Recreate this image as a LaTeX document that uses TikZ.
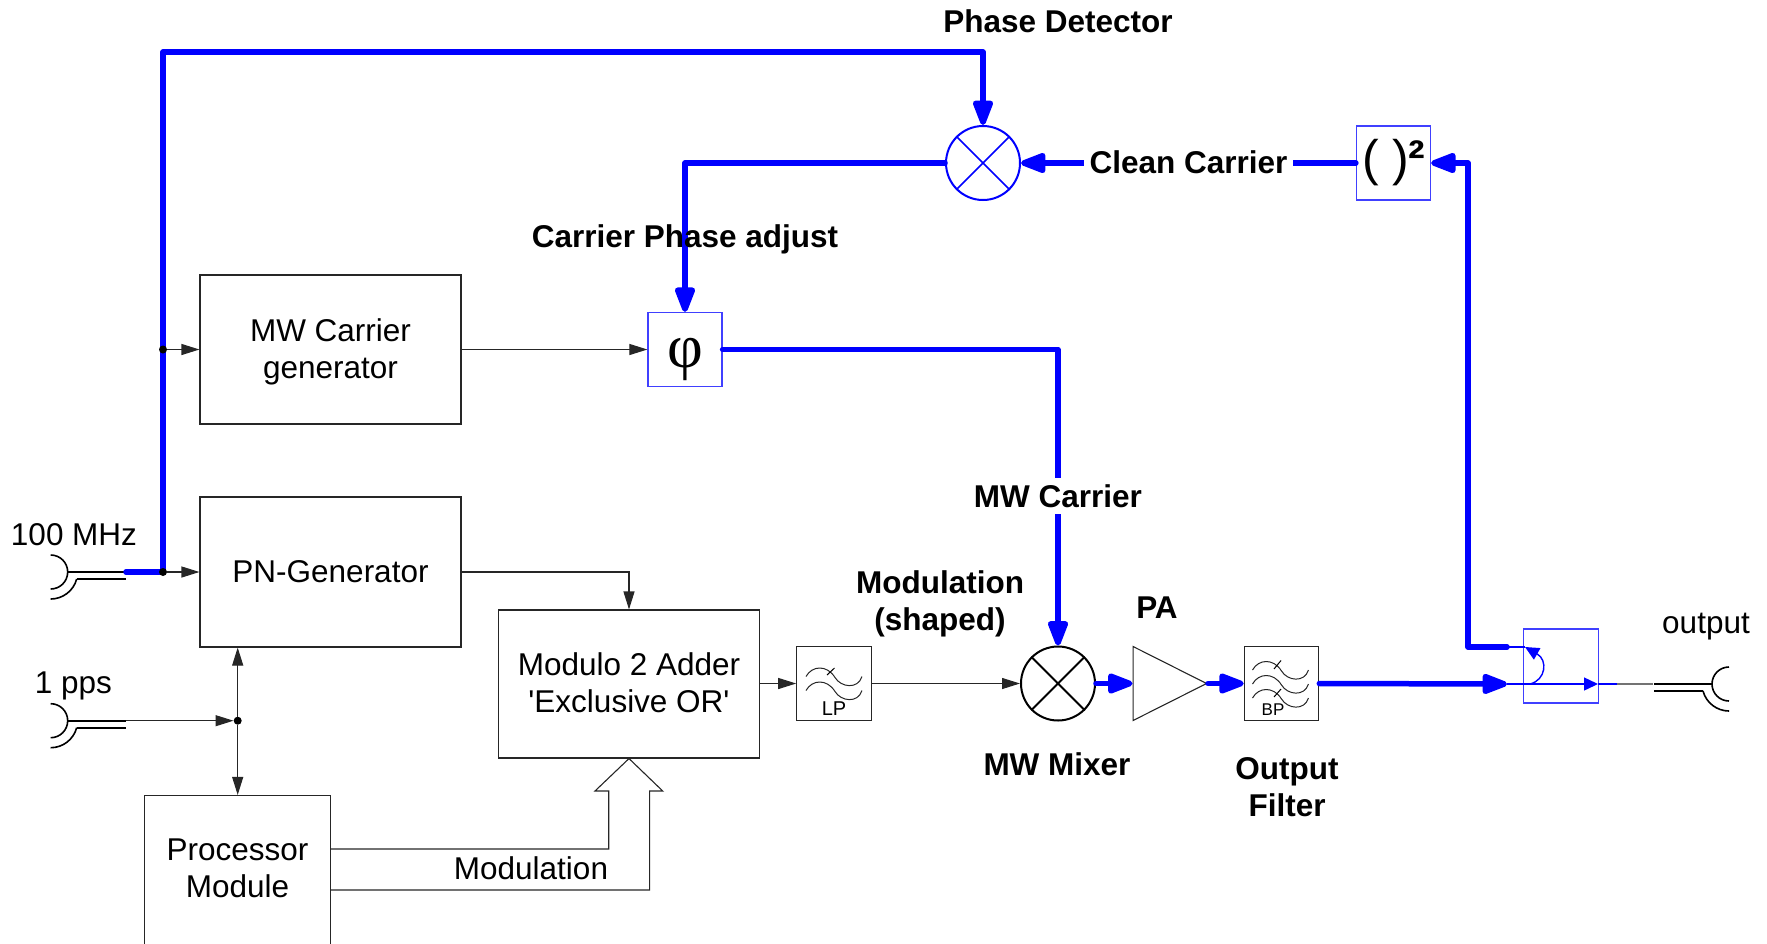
\documentclass[tikz,border=0pt]{standalone}
\usepackage{fontspec}
\setmainfont{Liberation Sans}
\newfontfamily\phifont{Liberation Serif}
\newfontfamily\straightfont{Liberation Sans}
\usetikzlibrary{shapes.geometric, arrows.meta, positioning}
\definecolor{pathblue}{HTML}{0000FF}
\tikzset{
  sigline/.style={line width=1.1pt, draw=black!85},
  sigarrow/.style={sigline, -{Triangle[length=18pt,width=11pt]}},
  heavyline/.style={line width=5.5pt, draw=pathblue, line cap=round, line join=round},
  heavyarrow/.style={heavyline, -{Triangle[length=30pt,width=21pt,round=false]}},
  blockbox/.style={draw=black!85, line width=1.1pt, fill=none, inner sep=0pt,
    font=\fontsize{31.5}{37}\selectfont},
  bluebox/.style={draw=pathblue!75, line width=1.2pt, minimum width=74pt, minimum height=74pt, inner sep=0pt},
  filterbox/.style={draw=black!85, line width=1.1pt, minimum width=74.5pt, minimum height=74pt, inner sep=0pt},
  xcircle/.style={circle, line width=2pt, minimum size=74pt, inner sep=0pt},
  boldlabel/.style={font=\fontsize{31.5}{37}\selectfont\bfseries, align=center, inner sep=0pt},
  plainlabel/.style={font=\fontsize{31.5}{37}\selectfont, align=center, inner sep=0pt},
  joindot/.style={circle, fill=black, minimum size=8pt, inner sep=0pt},
  filterwave/.pic={\draw[line width=1pt, black!85] (0,0) .. controls (6,-11) and (21,-12) .. (29,1)
    .. controls (35,11) and (52,13) .. (56,0);},
  port/.pic={\draw[line width=1.6pt] (17,0) -- (75,0) (26,7) -- (75,7);
    \draw[line width=1.6pt] (0,-17) arc[start angle=-90,end angle=90,radius=17];
    \draw[line width=1.6pt] (26,7) arc[start angle=15,end angle=90,radius=27];},
}
\begin{document}
\begin{tikzpicture}[x=1pt,y=-1pt]
  \useasboundingbox (0,0) rectangle (1767,943);

  % blocks
  \node[blockbox, minimum width=261pt, minimum height=149pt] (carrier) at (330.5,349.5) {};
  \node[plainlabel] (carriertext) at (330.5,351.7) {MW Carrier\\generator};
  \node[blockbox, minimum width=261pt, minimum height=150pt] (pngen) at (330.5,572) {PN-Generator};
  \node[blockbox, minimum width=261pt, minimum height=148pt] (adder) at (629,684) {};
  \node[plainlabel] (addertext) at (629,683) {Modulo 2 Adder\\{\straightfont'Exclusive OR'}};
  \node[blockbox, minimum width=186pt, minimum height=151pt] (proc) at (237.5,871) {};
  \node[plainlabel] (proctext) at (237.5,868.2) {Processor\\Module};

  \node[bluebox] (phase) at (685,349.5) {\phifont\fontsize{62}{62}\selectfont\raisebox{-17.5pt}[0pt][0pt]{φ}};
  \node[bluebox] (square) at (1393.5,163) {\fontsize{50}{50}\selectfont ( )\kern-1pt{\bfseries²}};
  \node[bluebox, minimum width=75pt] (coupler) at (1561,666) {};
  \node[filterbox] (lowpass) at (834,683.5) {};
  \node[filterbox] (bandpass) at (1281.5,683.5) {};
  \node[xcircle, draw=black] (mixer) at (1058,683.5) {};
  \node[xcircle, draw=pathblue] (detector) at (983,163) {};
  \node[isosceles triangle, isosceles triangle stretches, draw=black!85, line width=1.1pt, inner sep=0pt,
        minimum width=74pt, minimum height=73.5pt, anchor=lower side] (amp) at (1132.5,683.5) {};

  \draw[line width=2pt] (mixer.45) -- (mixer.225) (mixer.135) -- (mixer.315);
  \draw[line width=1.6pt, pathblue] (detector.45) -- (detector.225) (detector.135) -- (detector.315);

  % filter glyphs
  \pic at (806,676.5) {filterwave};
  \pic at (806,690.5) {filterwave};
  \draw[line width=1pt] (827,675) -- (834.5,668);
  \node[font=\fontsize{20}{20}\selectfont, inner sep=0pt] (lptext) at (834,709) {LP};
  \pic at (1252.5,670) {filterwave};
  \pic at (1252.5,684) {filterwave};
  \pic at (1252.5,698) {filterwave};
  \draw[line width=1pt] (1274,669) -- (1281,660.5) (1274,697) -- (1281,689);
  \node[font=\fontsize{17}{17}\selectfont, inner sep=0pt] (bptext) at (1273,710) {BP};

  % ports
  \pic at (50.7,572) {port};
  \pic at (50.7,720.7) {port};
  \pic[xscale=-1] at (1729,684) {port};
  \coordinate (inport) at (126,572);
  \coordinate (ppsport) at (126,720.7);
  \coordinate (outport) at (1653,684);

  % heavy loop
  \coordinate (refpoint) at (163,572);
  \coordinate (looptop) at (163,52);
  \coordinate (coupin) at (1507,684);
  \coordinate (coupside) at (1507,647);
  \draw[heavyline] (inport) -- (refpoint);
  \draw[heavyarrow] (refpoint) -- (looptop) -| (detector.north);
  \draw[heavyarrow] (detector.west) -| (phase.north);
  \draw[heavyarrow] (phase.east) -| (mixer.north);
  \draw[heavyarrow] (square.west) -- (detector.east);
  \draw[heavyarrow] (coupside) -| (1468,163) -- (square.east);
  \draw[heavyarrow] (mixer.east) -- (amp.lower side);
  \draw[heavyarrow] (amp.apex) -- (bandpass.west);
  \draw[heavyarrow] (bandpass.east) -- (coupin);

  % junction dots
  \node[joindot] (refdot) at (refpoint) {};
  \node[joindot] (gendot) at (163,349.5) {};
  \node[joindot] (ppsdot) at (237.7,720.7) {};

  % coupler inside
  \coordinate (coupout) at (1598,684);
  \coordinate (bendstart) at (1530,684);
  \coordinate (bendend) at (1525,647);
  \draw[line width=1.4pt, pathblue, -{Triangle[length=14pt,width=13pt]}] (coupin) -- (coupout);
  \draw[line width=1.4pt, pathblue] (coupside) -- (bendend);
  \draw[line width=1.4pt, pathblue, -{Triangle[length=14pt,width=13pt]}] (bendstart) .. controls (1546,680) and (1548,660) .. (bendend);
  \draw[line width=1.4pt, pathblue] (coupout) -- (1617,684);
  \draw[sigline, black!55] (1617,684) -- (outport);

  % thin signal lines
  \draw[sigarrow] (refdot) -- (pngen.west);
  \draw[sigarrow] (gendot) -- (carrier.west);
  \draw[sigarrow] (carrier.east) -- (phase.west);
  \draw[sigarrow] (pngen.east) -| (adder.north);
  \draw[sigarrow] (adder.east |- lowpass.west) -- (lowpass.west);
  \draw[sigarrow] (lowpass.east) -- (mixer.west);
  \draw[sigarrow] (ppsport) -- (ppsdot);
  \draw[sigarrow] (ppsdot) -- (ppsdot |- pngen.south);
  \draw[sigarrow] (ppsdot) -- (ppsdot |- proc.north);

  % wide modulation arrow
  \draw[sigline] (proc.east |- 0,849) -- (608.7,849) -- (608.7,791) -- (595,791) -- (adder.south)
    -- (662.7,791) -- (649.6,791) -- (649.6,890) -- (proc.east |- 0,890);
  \node[plainlabel] (modtext) at (531,868) {Modulation};

  % labels
  \node[plainlabel] (reftext) at (74,535) {100 MHz};
  \node[plainlabel] (ppstext) at (73.5,686) {1 pps};
  \node[plainlabel] (outtext) at (1706,627) {output};
  \node[boldlabel] (dettext) at (1058,21) {Phase Detector};
  \node[boldlabel] (adjtext) at (685,239) {Carrier Phase adjust};
  \node[boldlabel, fill=white, inner xsep=6pt] (cleantext) at (1188.5,162) {Clean Carrier};
  \node[boldlabel, fill=white, inner ysep=6pt] (cartext) at (1058,496) {MW Carrier};
  \node[boldlabel] (shapedtext) at (940,604) {Modulation\\(shaped)};
  \node[boldlabel] (patext) at (1157,608) {PA};
  \node[boldlabel] (mixtext) at (1057,764) {MW Mixer};
  \node[boldlabel] (filttext) at (1287,787) {Output\\Filter};
\end{tikzpicture}
\end{document}
